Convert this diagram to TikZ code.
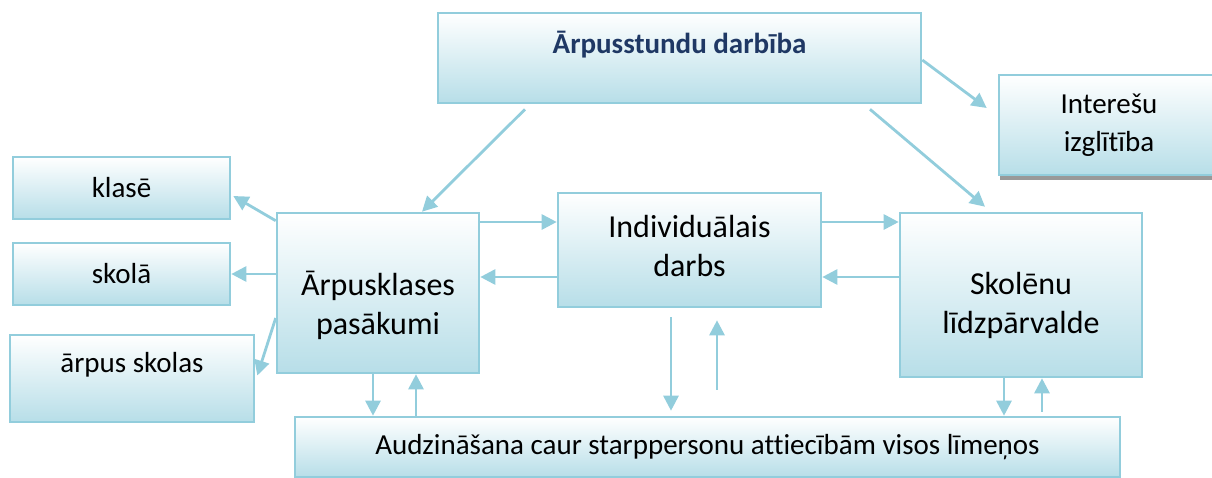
\documentclass[tikz,border=0pt]{standalone}
\usepackage{fontspec}
\setmainfont{Carlito}[Ligatures=NoCommon]
\usetikzlibrary{arrows.meta, shadows}
\definecolor{boxline}{RGB}{146,205,220}
\definecolor{boxfill}{RGB}{183,222,232}
\definecolor{titleblue}{RGB}{31,56,100}

\begin{document}
\begin{tikzpicture}[x=1pt, y=-1pt,
    box/.style={draw=boxline, line width=2.6pt, top color=white, bottom color=boxfill,
      align=center, inner sep=0pt, font=\fontsize{29}{38}\selectfont},
    txt/.style={align=center, font=\fontsize{32}{39}\selectfont},
    arr/.style={draw=boxline, line width=2.8pt, -{Triangle[length=15pt,width=15pt]}}]
    \useasboundingbox (0,0) rectangle (1212,477);
    \node[box, minimum width=483pt, minimum height=90pt, text height=21pt, text depth=30pt,
      font=\bfseries\fontsize{29}{38}\selectfont, text=titleblue] (top) at (679.5,58) {Ārpusstundu darbība};
    \node[box, minimum width=220pt, minimum height=100pt,
      drop shadow={shadow xshift=1pt, shadow yshift=-5pt, fill=gray!80, opacity=1}] (int) at (1109,125) {Interešu\\izglītība};
    \node[box, minimum width=217pt, minimum height=62pt] (kla) at (121.5,188) {klasē};
    \node[box, minimum width=217pt, minimum height=62pt] (sko) at (121.5,274) {skolā};
    \node[box, minimum width=244pt, minimum height=87pt, text height=20pt, text depth=33pt] (arp) at (132,378.5) {ārpus skolas};
    \node[box, minimum width=202pt, minimum height=160pt,
      label={[txt, yshift=-12pt]center:Ārpusklases\\pasākumi}] (pas) at (378,293) {};
    \node[box, minimum width=263pt, minimum height=114pt,
      label={[txt, yshift=4pt]center:Individuālais\\darbs}] (ind) at (689.5,250) {};
    \node[box, minimum width=242pt, minimum height=164pt,
      label={[txt, yshift=-10pt]center:Skolēnu\\līdzpārvalde}] (sl) at (1021,295) {};
    \node[box, minimum width=825pt, minimum height=60pt] (aud) at (707.5,447) {Audzināšana caur starppersonu attiecībām visos līmeņos};

    \draw[arr] ([xshift=-154.5pt,yshift=-5pt]top.south) -- ([xshift=44pt]pas.north);
    \draw[arr] ([xshift=190.5pt,yshift=-5pt]top.south) -- ([xshift=-36pt,yshift=5pt]sl.north);
    \draw[arr] ([yshift=-2pt]top.east) -- ([xshift=-11pt,yshift=17pt]int.west);

    \draw[arr] ([yshift=-9pt]pas.north west) -- ([xshift=2pt,yshift=-8pt]kla.east);
    \draw[arr] (pas.west |- sko.east) -- (sko.east);
    \draw[arr] ([yshift=-25pt]pas.west) -- ([xshift=2pt,yshift=3pt]arp.east);

    \coordinate (r1) at ([yshift=28pt]ind.west);
    \coordinate (r2) at ([yshift=-27pt]ind.west);
    \draw[arr] (pas.east |- r1) -- (r1);
    \draw[arr] (r2) -- (pas.east |- r2);
    \draw[arr] (ind.east |- r1) -- (sl.west |- r1);
    \draw[arr] (sl.west |- r2) -- (ind.east |- r2);

    \coordinate (c1) at ([xshift=-5pt]pas.south);
    \coordinate (c2) at ([xshift=38pt]pas.south);
    \coordinate (c3) at ([xshift=-18.5pt,yshift=-9pt]ind.south);
    \coordinate (c4) at ([xshift=27.5pt,yshift=-12pt]ind.south);
    \coordinate (c5) at ([xshift=-17pt]sl.south);
    \coordinate (c6) at ([xshift=21pt]sl.south);
    \draw[arr] (c1) -- (c1 |- aud.north);
    \draw[arr] (c2 |- aud.north) -- (c2);
    \draw[arr, shorten >=5pt] (c3) -- (c3 |- aud.north);
    \draw[arr, shorten <=26pt] (c4 |- aud.north) -- (c4);
    \draw[arr] (c5) -- (c5 |- aud.north);
    \draw[arr, shorten <=4pt] (c6 |- aud.north) -- (c6);
\end{tikzpicture}
\end{document}
